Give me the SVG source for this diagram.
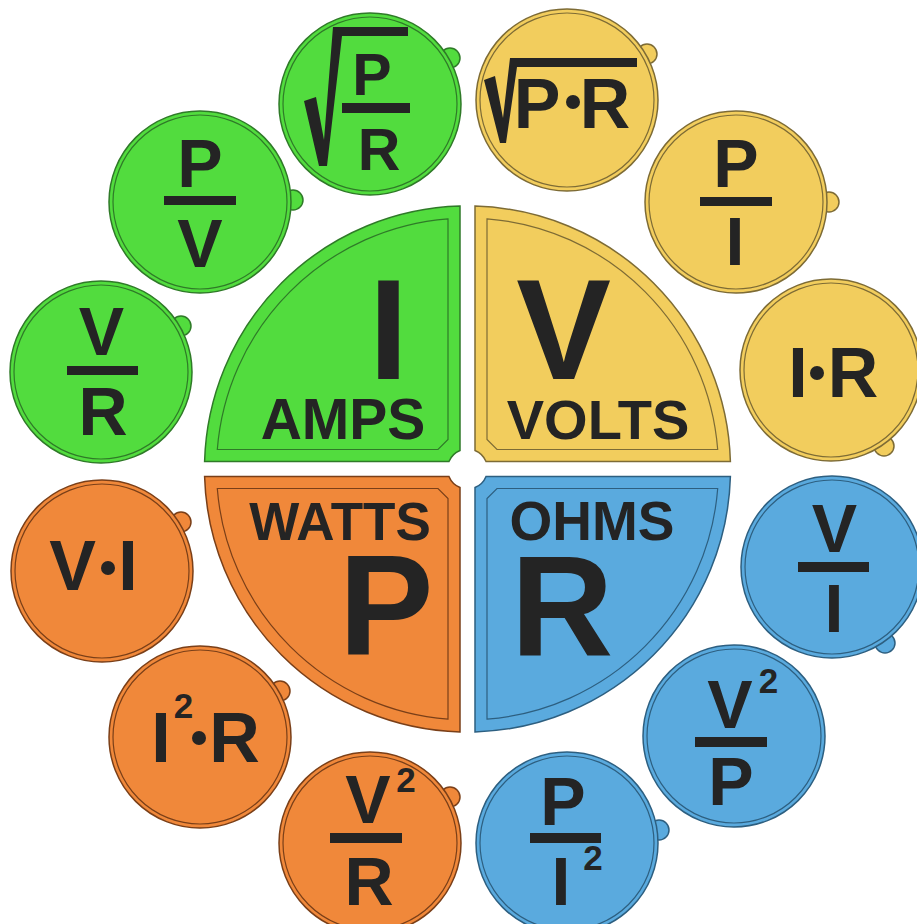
<svg xmlns="http://www.w3.org/2000/svg" width="917" height="924" viewBox="0 0 917 924">
<style>
text{font-family:"Liberation Sans",Arial,sans-serif;font-weight:bold;fill:#242424;text-anchor:middle}
.big{font-size:142px}
.lbl{font-size:56px}
.s{font-size:68px}
.sup{font-size:35px}
.ink{fill:#242424}
.g{fill:#52dc3e;stroke:#2f7a28;stroke-width:1.5}
.y{fill:#f2cd5d;stroke:#7d6b35;stroke-width:1.5}
.o{fill:#f0883a;stroke:#7a3f18;stroke-width:1.5}
.b{fill:#5aaade;stroke:#2d5f80;stroke-width:1.5}
.gi{fill:none;stroke:#2f7a28;stroke-width:1.2}
.yi{fill:none;stroke:#7d6b35;stroke-width:1.2}
.oi{fill:none;stroke:#7a3f18;stroke-width:1.2}
.bi{fill:none;stroke:#2d5f80;stroke-width:1.2}
</style>
<rect width="917" height="924" fill="#ffffff"/>

<g id="quad-amps">
<path class="g" d="M204.6,461.5 L448.96,461.5 A20,20 0 0 1 460,450.46 L460,206.1 A263,263 0 0 0 204.6,461.5 Z"/>
<path class="gi" d="M217.3,449.5 L438,449.5 L448,439.5 L448,218.8 A251,251 0 0 0 217.3,449.5 Z"/>
<text class="big" x="388.5" y="379">I</text>
<text class="lbl" x="343" y="439" style="font-size:57px">AMPS</text>
</g>

<g id="quad-volts">
<path class="y" d="M730.4,461.5 L486.04,461.5 A20,20 0 0 0 475,450.46 L475,206.1 A263,263 0 0 1 730.4,461.5 Z"/>
<path class="yi" d="M717.7,449.5 L497,449.5 L487,439.5 L487,218.8 A251,251 0 0 1 717.7,449.5 Z"/>
<text class="big" x="563.5" y="379">V</text>
<text class="lbl" x="598" y="439">VOLTS</text>
</g>

<g id="quad-watts">
<path class="o" d="M204.6,476.5 L448.96,476.5 A20,20 0 0 0 460,487.54 L460,731.89 A263,263 0 0 1 204.6,476.5 Z"/>
<path class="oi" d="M217.3,488.5 L438,488.5 L448,498.5 L448,719.2 A251,251 0 0 1 217.3,488.5 Z"/>
<text class="lbl" x="340" y="540" style="font-size:53px">WATTS</text>
<text class="big" x="386" y="655">P</text>
</g>

<g id="quad-ohms">
<path class="b" d="M730.4,476.5 L486.04,476.5 A20,20 0 0 1 475,487.54 L475,731.89 A263,263 0 0 0 730.4,476.5 Z"/>
<path class="bi" d="M717.7,488.5 L497,488.5 L487,498.5 L487,719.2 A251,251 0 0 0 717.7,488.5 Z"/>
<text class="lbl" x="592" y="540" style="font-size:55px">OHMS</text>
<text class="big" x="562" y="655">R</text>
</g>

<!-- green circles -->
<g id="c-sqrt-p-over-r">
<circle class="g" cx="450" cy="58" r="10"/>
<circle class="g" cx="370" cy="104" r="91"/>
<circle class="gi" cx="370" cy="104" r="87"/>
<polygon class="ink" points="304,101 316,97 324,140 333,27 408,27 408,36 342,36 327,166 319,166"/>
<text x="372" y="95" style="font-size:59px">P</text>
<rect class="ink" x="342" y="103" width="68" height="10"/>
<text x="379" y="170" style="font-size:59px">R</text>
</g>

<g id="c-p-over-v">
<circle class="g" cx="293" cy="200" r="10"/>
<circle class="g" cx="200" cy="202" r="91"/>
<circle class="gi" cx="200" cy="202" r="87"/>
<text class="s" x="200" y="187">P</text>
<rect class="ink" x="164" y="196" width="72" height="9"/>
<text class="s" x="200" y="267">V</text>
</g>

<g id="c-v-over-r">
<circle class="g" cx="181" cy="326" r="10"/>
<circle class="g" cx="101" cy="372" r="91"/>
<circle class="gi" cx="101" cy="372" r="87"/>
<text class="s" x="101.5" y="355">V</text>
<rect class="ink" x="67" y="366" width="71" height="9"/>
<text class="s" x="103" y="435">R</text>
</g>

<!-- yellow circles -->
<g id="c-sqrt-p-r">
<circle class="y" cx="647" cy="54" r="10"/>
<circle class="y" cx="567" cy="100" r="91"/>
<circle class="yi" cx="567" cy="100" r="87"/>
<polygon class="ink" points="484,80 495,76 503,118 510,58 637,58 637,67 517,67 506,143 500,143"/>
<text x="537" y="128" style="font-size:70px">P</text>
<circle class="ink" cx="573" cy="102" r="7"/>
<text x="605" y="128" style="font-size:70px">R</text>
</g>

<g id="c-p-over-i">
<circle class="y" cx="829" cy="202" r="10"/>
<circle class="y" cx="736" cy="202" r="91"/>
<circle class="yi" cx="736" cy="202" r="87"/>
<text class="s" x="736" y="187">P</text>
<rect class="ink" x="700" y="197" width="72" height="9"/>
<text class="s" x="735" y="265">I</text>
</g>

<g id="c-i-r">
<circle class="y" cx="884" cy="446" r="10"/>
<circle class="y" cx="831" cy="370" r="91"/>
<circle class="yi" cx="831" cy="370" r="87"/>
<text x="798" y="397" style="font-size:70px">I</text>
<circle class="ink" cx="817" cy="373" r="7"/>
<text x="853" y="397" style="font-size:70px">R</text>
</g>

<!-- orange circles -->
<g id="c-v-i">
<circle class="o" cx="181" cy="522" r="10"/>
<circle class="o" cx="102" cy="571" r="91"/>
<circle class="oi" cx="102" cy="571" r="87"/>
<text x="72.5" y="590" style="font-size:70px">V</text>
<circle class="ink" cx="108" cy="568" r="7"/>
<text x="128" y="590" style="font-size:70px">I</text>
</g>

<g id="c-i2-r">
<circle class="o" cx="280" cy="691" r="10"/>
<circle class="o" cx="200" cy="737" r="91"/>
<circle class="oi" cx="200" cy="737" r="87"/>
<text x="161" y="762" style="font-size:70px">I</text>
<text class="sup" x="183.5" y="718">2</text>
<circle class="ink" cx="199" cy="738" r="7"/>
<text x="234.5" y="762" style="font-size:70px">R</text>
</g>

<g id="c-v2-over-r">
<circle class="o" cx="450" cy="797" r="10"/>
<circle class="o" cx="370" cy="843" r="91"/>
<circle class="oi" cx="370" cy="843" r="87"/>
<text class="s" x="368" y="823">V</text>
<text class="sup" x="406" y="792">2</text>
<rect class="ink" x="330" y="833" width="72" height="10"/>
<text class="s" x="369" y="905">R</text>
</g>

<!-- blue circles -->
<g id="c-v-over-i">
<circle class="b" cx="885" cy="643" r="10"/>
<circle class="b" cx="832" cy="567" r="91"/>
<circle class="bi" cx="832" cy="567" r="87"/>
<text class="s" x="834.5" y="552">V</text>
<rect class="ink" x="798" y="562" width="71" height="10"/>
<text class="s" x="834" y="632">I</text>
</g>

<g id="c-v2-over-p">
<circle class="b" cx="734" cy="736" r="91"/>
<circle class="bi" cx="734" cy="736" r="87"/>
<text class="s" x="730" y="728">V</text>
<text class="sup" x="768.5" y="693">2</text>
<rect class="ink" x="695" y="737" width="72" height="10"/>
<text class="s" x="731" y="805">P</text>
</g>

<g id="c-p-over-i2">
<circle class="b" cx="659" cy="830" r="10"/>
<circle class="b" cx="567" cy="843" r="91"/>
<circle class="bi" cx="567" cy="843" r="87"/>
<text class="s" x="563" y="825">P</text>
<rect class="ink" x="530" y="833" width="71" height="10"/>
<text class="s" x="561" y="905">I</text>
<text class="sup" x="593" y="870">2</text>
</g>

<g id="connectors"></g>
</svg>
